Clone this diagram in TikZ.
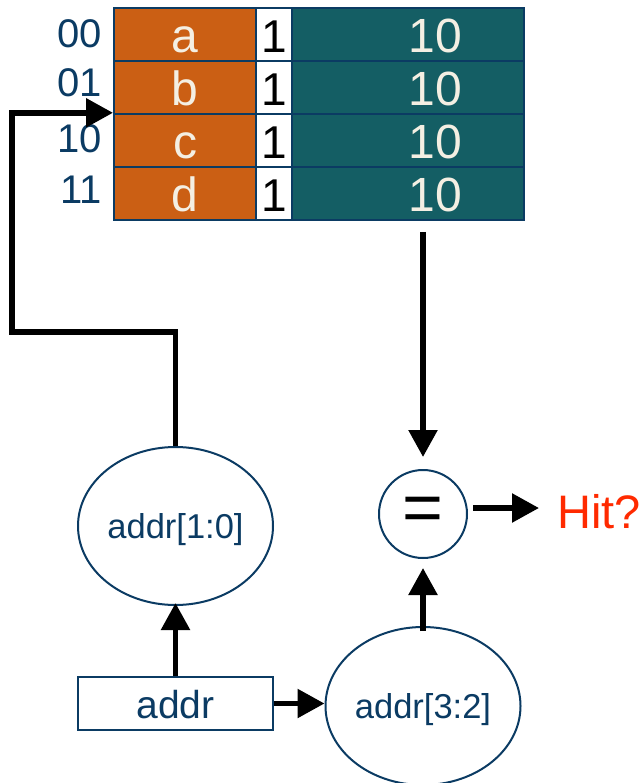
\documentclass[tikz,border=0pt]{standalone}
\usepackage{fontspec}
\setmainfont{Liberation Sans}
\usetikzlibrary{shapes.geometric,arrows.meta}
\definecolor{navy}{HTML}{0B3B63}
\definecolor{orng}{HTML}{CB5F14}
\definecolor{tealc}{HTML}{145E64}
\definecolor{cream}{HTML}{F4EFE3}
\definecolor{hitred}{HTML}{FF2A00}
\begin{document}
\begin{tikzpicture}[x=1pt,y=-1pt,
  cellbox/.style={draw=navy, line width=2.4pt, anchor=north west, minimum height=52.9pt, inner sep=0pt, text height=36pt, text depth=0pt, font=\fontsize{48}{48}\selectfont},
  orangecell/.style={cellbox, fill=orng, text=cream, minimum width=142pt},
  validcell/.style={cellbox, fill=white, text=black, minimum width=36pt, font=\fontsize{46}{46}\selectfont},
  tagcell/.style={cellbox, fill=tealc, minimum width=232pt},
  tagtext/.style={text=cream, inner sep=0pt, text height=36pt, text depth=0pt, font=\fontsize{48}{48}\selectfont},
  rowlabel/.style={anchor=base east, inner sep=0pt, text=navy, font=\fontsize{40}{40}\selectfont},
  ellbox/.style={ellipse, draw=navy, line width=2pt, minimum width=195pt, minimum height=158pt, inner sep=0pt, text=navy, text height=25pt, text depth=0pt, font=\fontsize{34.5}{34.5}\selectfont},
  arr/.style={line width=5.5pt, -{Triangle[length=27pt,width=28pt]}},
]
\useasboundingbox (0,0) rectangle (641,783);
\foreach \i/\lt in {1/a,2/b,3/c,4/d}{
  \pgfmathsetmacro\rowy{7+52.9*(\i-1)}
  \node[orangecell] (o\i) at (113,\rowy) {\lt};
  \node[validcell] (v\i) at (255,\rowy) {1};
  \node[tagcell] (t\i) at (291,\rowy) {};
  \node[tagtext] (g\i) at ([xshift=27pt]t\i.center) {10};
}
\node[rowlabel] (l1) at (102,48) {00};
\node[rowlabel] (l2) at (102,97) {01};
\node[rowlabel] (l3) at (102,153) {10};
\node[rowlabel] (l4) at (102,204) {11};

\node[ellbox] (lo) at (175.5,526) {addr[1:0]};
\node[ellbox] (hi) at (423,706) {addr[3:2]};
\node[draw=navy, line width=2pt, minimum width=195pt, minimum height=53pt, inner sep=0pt, text=navy, text height=29pt, text depth=0pt, font=\fontsize{39}{39}\selectfont] (ad) at (175.5,703.5) {addr};
\node[circle, draw=navy, line width=2pt, minimum size=88pt, inner sep=0pt, font=\fontsize{70}{70}\selectfont] (eq) at (423,514) {=};
\node[anchor=base west, inner sep=0pt, text=hitred, font=\fontsize{47}{47}\selectfont] (hit) at (557,528) {Hit?};

\coordinate (turn) at (12,332);
\draw[arr] (lo.north) |- (turn) |- (o3.north west);
\draw[arr, shorten <=11pt, shorten >=12pt] (eq.north |- t4.south) -- (eq.north);
\draw[arr, shorten <=-5pt, shorten >=9pt] (hi.north) -- (eq.south);
\draw[arr, shorten >=-3pt] (ad.north) -- (lo.south);
\draw[arr] (ad.east) -- (ad.east -| hi.west);
\coordinate (eqo) at ([yshift=6pt]eq.east);
\draw[arr, shorten <=5pt, shorten >=18pt] (eqo) -- (eqo -| hit.west);
\end{tikzpicture}
\end{document}
